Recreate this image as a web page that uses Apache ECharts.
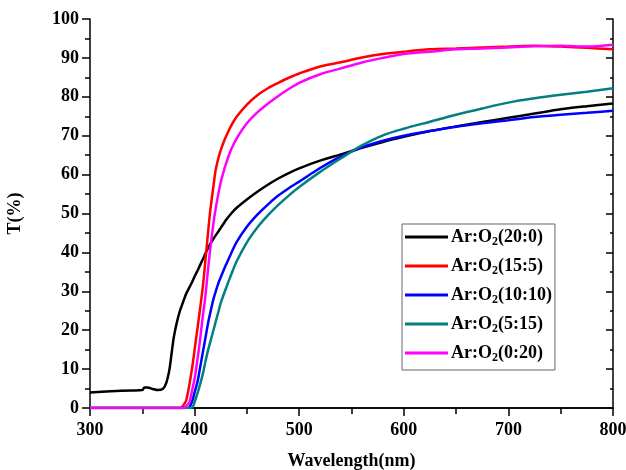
<!DOCTYPE html>
<html><head><meta charset="utf-8">
<script src="https://cdn.jsdelivr.net/npm/echarts@6/dist/echarts.min.js"></script>
<style>html,body{margin:0;padding:0;background:#fff}#c{width:626px;height:470px}</style>
</head><body><div id="c"></div>
<script>
var wavelengths = [300,320,340,350,352,355,360,365,370,373,376,378,380,383,386,388,390,392,395,398,400,403,405,408,410,413,415,418,420,423,425,428,430,435,440,450,460,470,480,490,500,520,540,560,580,600,625,650,675,700,725,750,775,800];
var seriesNames = ['Ar:O2(20:0)','Ar:O2(15:5)','Ar:O2(10:10)','Ar:O2(5:15)','Ar:O2(0:20)'];
var t_20_0 = [4.0,4.3,4.5,4.6,5.3,5.3,4.9,4.6,5.0,6.5,10,14,18,22,25,26.5,28,29.4,31,32.6,33.8,35.4,36.6,38.3,39.5,41.2,42.2,43.5,44.3,45.5,46.3,47.5,48.3,50,51.4,53.6,55.6,57.4,59,60.4,61.6,63.6,65.2,66.9,68.4,69.7,71.2,72.4,73.5,74.6,75.7,76.8,77.6,78.3];
var t_15_5 = [0,0,0,0,0,0,0,0,0,0,0,0,0,0,0,0.3,1.0,2,6,11,15,21,25,31.5,37,45.5,50.8,57,61,64.5,66.3,68.5,69.8,72.6,74.8,78,80.4,82.2,83.6,84.9,86,87.8,88.9,90.1,91,91.6,92.2,92.4,92.7,92.9,93.1,92.9,92.6,92.2];
var t_10_10 = [0,0,0,0,0,0,0,0,0,0,0,0,0,0,0,0,0,0,0.2,2,4,7,10,14.5,17.5,22,24.5,28,29.8,32.3,33.6,35.6,36.8,39.8,42.6,46.6,49.7,52.3,54.6,56.5,58.2,61.7,64.7,67,68.7,70,71.2,72.3,73.2,74,74.8,75.4,75.9,76.4];
var t_5_15 = [0,0,0,0,0,0,0,0,0,0,0,0,0,0,0,0,0,0,0,0.2,1.5,4,5.8,8.9,11.5,15,17,20,22,25,27,29.3,30.8,34.3,37.6,42.6,46.4,49.5,52.2,54.6,56.8,60.7,64.2,67.5,70.1,71.8,73.6,75.4,77,78.5,79.6,80.5,81.3,82.2];
var t_0_20 = [0,0,0,0,0,0,0,0,0,0,0,0,0,0,0,0,0,0.5,1.5,5,7.5,13,17,24,28,36,41,47.5,51,55.5,58,61,62.8,66.5,69.2,73.2,76,78.2,80.2,82,83.6,85.8,87.3,88.8,90,91,91.6,92.2,92.4,92.7,93,93.1,92.9,93.4];
var xTicks = [300,400,500,600,700,800];
var yTicks = [0,10,20,30,40,50,60,70,80,90,100];
var colors = ['#000000','#ff0000','#0000ff','#008080','#ff00ff'];

var allValues = [t_20_0, t_15_5, t_10_10, t_5_15, t_0_20];
var FONT = '"Liberation Serif","Times New Roman",serif';
var chart = echarts.init(document.getElementById('c'), null, {renderer:'canvas'});
var series = allValues.map(function(vals, k){
  return {
    name: seriesNames[k], type:'line', showSymbol:false, smooth:0.3,
    xAxisIndex:0, yAxisIndex:0,
    lineStyle:{color:colors[k], width:2.5}, itemStyle:{color:colors[k]},
    data: wavelengths.map(function(x,i){return [x, vals[i]];})
  };
});
var axisLineStyle = {lineStyle:{color:'#000', width:1.5}};
chart.setOption({
  animation:false,
  grid:{left:90, right:13, top:19, bottom:62, containLabel:false, outerBoundsMode:'none'},
  legend:{
    orient:'vertical', left:402, top:224,
    data: seriesNames,
    itemWidth:43, itemHeight:3, itemGap:9,
    padding:[4,3,6,3],
    borderColor:'#666', borderWidth:1, backgroundColor:'#fff',
    icon:'rect',
    formatter:function(n){ return n.replace('O2','O{s|2}'); },
    textStyle:{fontFamily:FONT, fontWeight:'bold', fontSize:18, color:'#000', padding:[0,0,0,-2],
      rich:{s:{fontFamily:FONT, fontWeight:'bold', fontSize:12, color:'#000', verticalAlign:'top', padding:[10,0,0,0]}}}
  },
  xAxis:[{
    type:'value', min:300, max:800, interval:100, position:'bottom',
    name:'Wavelength(nm)', nameLocation:'middle', nameGap:44,
    nameTextStyle:{fontFamily:FONT, fontWeight:'bold', fontSize:18, color:'#000'},
    axisLine:axisLineStyle,
    axisTick:{show:true, inside:false, length:8, lineStyle:{color:'#000', width:1.5}},
    minorTick:{show:true, splitNumber:2, length:5, lineStyle:{color:'#000', width:1.5}},
    axisLabel:{fontFamily:FONT, fontWeight:'bold', fontSize:18, color:'#000', margin:13,
      formatter:function(v){return xTicks.indexOf(v)>=0 ? String(v) : '';}},
    splitLine:{show:false}
  },{
    type:'value', min:300, max:800, interval:50, position:'top',
    axisLine:axisLineStyle,
    axisTick:{show:true, inside:true, length:6, lineStyle:{color:'#000', width:1.5}},
    axisLabel:{show:false}, splitLine:{show:false}
  }],
  yAxis:[{
    type:'value', min:0, max:100, interval:10, position:'left',
    name:'T(%)', nameLocation:'middle', nameGap:66, nameRotate:90,
    nameTextStyle:{fontFamily:FONT, fontWeight:'bold', fontSize:18, color:'#000'},
    axisLine:axisLineStyle,
    axisTick:{show:true, inside:false, length:8, lineStyle:{color:'#000', width:1.5}},
    minorTick:{show:true, splitNumber:2, length:5, lineStyle:{color:'#000', width:1.5}},
    axisLabel:{fontFamily:FONT, fontWeight:'bold', fontSize:18, color:'#000', margin:11,
      formatter:function(v){return yTicks.indexOf(v)>=0 ? String(v) : '';}},
    splitLine:{show:false}
  },{
    type:'value', min:0, max:100, interval:10, position:'right',
    axisLine:axisLineStyle,
    axisTick:{show:true, inside:true, length:7, lineStyle:{color:'#000', width:1.5}},
    minorTick:{show:true, splitNumber:2, length:3, lineStyle:{color:'#000', width:1.5}},
    axisLabel:{show:false}, splitLine:{show:false}
  }],
  series: series
});
</script></body></html>
